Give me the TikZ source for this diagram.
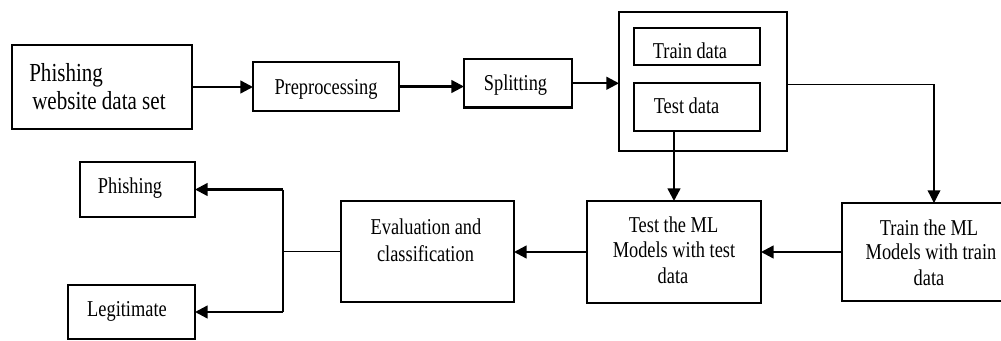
\documentclass[tikz,border=0pt]{standalone}
\usepackage{fontspec}
\setmainfont{Liberation Serif}[FakeStretch=0.81]
\usetikzlibrary{arrows.meta}
\begin{document}
\begin{tikzpicture}[x=0.75pt,y=-0.75pt,
  box/.style={draw, line width=1.9pt, inner sep=0pt, outer sep=0pt},
  sz/.style 2 args={minimum width=#1*0.75pt, minimum height=#2*0.75pt},
  txt/.style={anchor=base, inner sep=0pt, font=\fontsize{17}{20}\selectfont},
  bigtxt/.style={txt, anchor=base west, font=\fontsize{19.5}{22}\selectfont},
  tip/.style={-{Triangle[length=9.5pt,width=9.5pt]}},
  flow/.style={line width=1.8pt, tip},
  link/.style={line width=1pt},
]
\useasboundingbox (0,0) rectangle (1001,340);
\fill[white] (0,0) rectangle (1001,340);

% boxes
\node[box, sz={180}{84}]  (data)   at (102,87) {};
\node[box, sz={146}{49}]  (pre)    at (326,86.5) {};
\node[box, sz={108}{48.5}](split)  at (518,83.25) {};
\node[box, sz={168}{139}] (big)    at (703,81.5) {};
\node[box, sz={126}{37}]  (traind) at (697,46.5) {};
\node[box, sz={126}{48}]  (testd)  at (697,107) {};
\node[box, sz={174}{102}] (tml)    at (674,252) {};
\node[box, sz={170}{98}]  (trml)   at (927,252) {};
\node[box, sz={173}{101}] (eval)   at (427.5,251.5) {};
\node[box, sz={115}{55}]  (phish)  at (137.5,189.5) {};
\node[box, sz={127}{54}]  (legit)  at (131.5,312) {};

% labels
\node[bigtxt] (l-data1) at (29,81) {Phishing};
\node[bigtxt] (l-data2) at (32,109) {website data set};
\node[txt] (l-pre)   at (326,94) {Preprocessing};
\node[txt] (l-split) at (515.5,90) {Splitting};
\node[txt] (l-train) at (690,58) {Train data};
\node[txt] (l-test)  at (686.5,113) {Test data};
\node[txt] (l-tml1)  at (673.5,232) {Test the ML};
\node[txt] (l-tml2)  at (674,257) {Models with test};
\node[txt] (l-tml3)  at (673,283) {data};
\node[txt] (l-trml1) at (929,235) {Train the ML};
\node[txt] (l-trml2) at (931,259) {Models with train};
\node[txt] (l-trml3) at (929,285) {data};
\node[txt] (l-eval1) at (426,234) {Evaluation and};
\node[txt] (l-eval2) at (425.5,261) {classification};
\node[txt] (l-phish) at (130,193) {Phishing};
\node[txt] (l-legit) at (127,316) {Legitimate};

% connectors
\draw[flow] (data.east) -- (data.east -| pre.west);
\draw[flow] (pre.east) -- (pre.east -| split.west);
\draw[flow] (split.east) -- (split.east -| big.west);
\coordinate (turn) at (934,84.5);
\draw[link, tip] (big.east |- turn) -- (turn) -- (turn |- trml.north);
\draw[flow] (tml.north |- testd.south) -- (tml.north);
\draw[flow] (trml.west) -- (trml.west -| tml.east);
\draw[flow] (tml.west) -- (tml.west -| eval.east);
\coordinate (fork) at (283,251.5);
\draw[link] (eval.west) -- (fork);
\draw[link] (fork |- phish.east) -- (fork |- legit.east);
\draw[flow] (fork |- phish.east) -- (phish.east);
\draw[flow] (fork |- legit.east) -- (legit.east);
\end{tikzpicture}
\end{document}
